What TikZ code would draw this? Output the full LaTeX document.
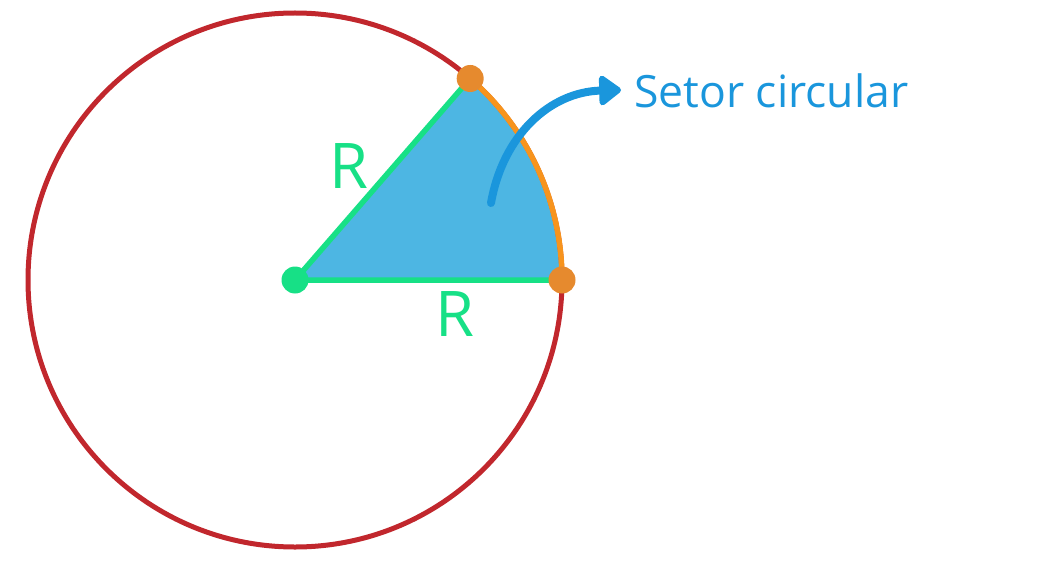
\documentclass[tikz,border=0pt]{standalone}
\usepackage{fontspec}
\setmainfont{Open Sans}
\usetikzlibrary{arrows.meta,calc}
\definecolor{cred}{HTML}{C1272D}
\definecolor{cblue}{HTML}{4DB6E3}
\definecolor{cgreen}{HTML}{17E086}
\definecolor{corange}{HTML}{F7941D}
\definecolor{cdot}{HTML}{E68A2E}
\definecolor{carrow}{HTML}{1A96DC}
\tikzset{
  dotmark/.style={circle,inner sep=0pt,minimum size=27pt},
  lbl/.style={text=cgreen,font=\fontsize{63}{63}\selectfont,inner sep=0pt},
}
\begin{document}
\begin{tikzpicture}[x=1pt,y=-1pt]
\useasboundingbox (0,0) rectangle (1064,564);
\coordinate (O) at (295,280);
\coordinate (A) at (562,280);
\coordinate (B) at ($(O)+(-49:267)$);
\fill[cblue] (O) -- (A) arc[start angle=0,end angle=49,radius=267pt] -- cycle;
\draw[cred,line width=5pt] (O) circle[radius=267pt];
\draw[corange,line width=5.5pt] (A) arc[start angle=0,end angle=49,radius=267pt];
\draw[cgreen,line width=5.5pt,line join=round] (B) -- (O) -- (A);
\node[dotmark,fill=cgreen] (o) at (O) {};
\node[dotmark,fill=cdot] (a) at (A) {};
\node[dotmark,fill=cdot] (b) at (B) {};
\node[lbl] (r1) at (349,166) {R};
\node[lbl] (r2) at (455,314) {R};
\node[anchor=west,text=carrow,font=\fontsize{44.5}{44.5}\selectfont,inner sep=0pt] (t) at (634,91) {Setor circular};
\coordinate (s) at (491,203);
\coordinate (e) at (621,90);
\draw[carrow,line width=8pt,line cap=round,-{Triangle[length=24pt,width=34pt,round]}] (s) .. controls (503,135) and (550,92) .. (e);
\end{tikzpicture}
\end{document}
